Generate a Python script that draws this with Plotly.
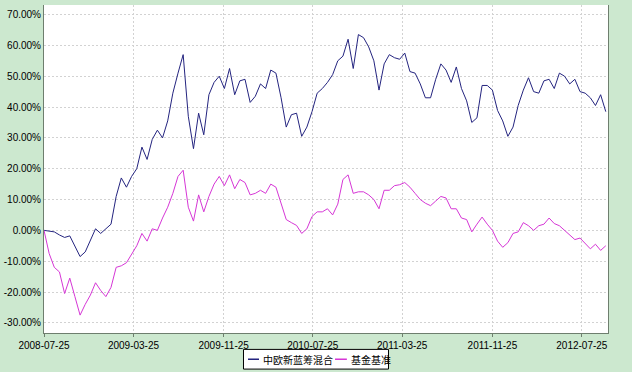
import pandas as pd
import plotly.graph_objects as go

start_date = "2008-07-25"
step = "14D"

fund_name = "中欧新蓝筹混合"
bench_name = "基金基准"

fund_values = [
    0.0, -0.2, -0.5, -1.5, -2.3, -1.8, -5.0, -8.5, -7.0, -3.5,
    0.5, -1.0, 0.5, 2.0, 11.0, 17.0, 14.0, 17.5, 20.0, 27.0,
    23.0, 29.5, 32.5, 30.0, 35.5, 44.5, 51.0, 57.0, 37.0, 26.5,
    38.0, 31.0, 44.0, 48.0, 50.0, 46.0, 52.5, 44.0, 48.5, 49.0,
    41.5, 43.5, 47.5, 46.0, 52.0, 51.0, 43.0, 33.5, 37.5, 38.0,
    30.5, 33.5, 38.5, 44.5, 46.0, 48.0, 50.5, 55.0, 56.5, 62.0,
    52.5, 63.5, 62.5, 59.5, 55.0, 45.5, 54.0, 57.0, 56.0, 55.5,
    57.5, 51.5, 51.0, 47.5, 43.0, 43.0, 49.0, 54.0, 52.0, 48.0,
    53.0, 46.0, 42.0, 35.0, 36.5, 47.0, 47.0, 45.5, 38.9, 35.5,
    30.5, 33.5, 40.5, 45.5, 49.5, 45.0, 44.5, 48.5, 49.0, 46.0,
    51.0, 50.0, 47.5, 49.0, 45.0, 44.5, 43.0, 40.5, 44.0, 38.5,
]

bench_values = [
    0.0, -7.5, -12.0, -13.5, -20.5, -15.5, -21.5, -27.5, -24.0, -21.0,
    -17.0, -19.5, -21.5, -18.5, -12.0, -11.5, -10.5, -7.5, -5.0, -1.0,
    -3.5, 0.5, 0.0, 4.0, 7.5, 12.0, 17.5, 19.5, 7.5, 3.0,
    11.5, 6.0, 11.0, 15.0, 17.5, 14.5, 18.0, 13.5, 16.5, 15.5,
    11.5, 12.0, 13.0, 12.0, 15.0, 14.0, 8.5, 3.5, 2.5, 1.6,
    -1.0, 0.5, 4.5, 6.0, 6.0, 7.0, 5.0, 8.5, 16.5, 18.0,
    12.0, 12.5, 12.5, 11.5, 10.0, 7.0, 13.0, 13.0, 14.5, 14.8,
    15.5, 14.0, 12.0, 10.0, 8.8, 8.0, 9.5, 11.0, 10.5, 7.0,
    7.0, 4.0, 3.5, -0.5, 2.0, 4.3, 2.0, 0.0, -3.5, -5.5,
    -4.0, -1.0, -0.5, 2.5, 1.5, 0.0, 1.5, 2.0, 4.0, 2.2,
    1.5, 0.0, -1.5, -3.0, -2.5, -4.3, -6.0, -4.5, -6.5, -5.0,
]

tick_dates = ["2008-07-25", "2009-03-25", "2009-11-25", "2010-07-25",
              "2011-03-25", "2011-11-25", "2012-07-25"]
y_ticks = [-30, -20, -10, 0, 10, 20, 30, 40, 50, 60, 70]
y_ticktext = [f"{v:.2f}%" for v in y_ticks]

FUND_COLOR = "#24247F"
BENCH_COLOR = "#D636D6"
PAGE_BG = "#CCE8CF"
GRID = "#D2D2D2"

dates = pd.date_range(start=start_date, periods=len(fund_values), freq=step)

fig = go.Figure()
fig.add_trace(go.Scatter(x=dates, y=fund_values, mode="lines", name=fund_name,
                         line=dict(color=FUND_COLOR, width=1)))
fig.add_trace(go.Scatter(x=dates, y=bench_values, mode="lines", name=bench_name,
                         line=dict(color=BENCH_COLOR, width=1)))

# ---- custom legend box below the plot (paper coordinates) ----
leg_font = dict(family="Noto Sans CJK SC, sans-serif", size=10, color="#000000")
y_top, y_bot, y_mid = -0.050, -0.110, -0.080
shapes = [
    dict(type="rect", xref="paper", yref="paper", x0=0.3537, x1=0.6108,
         y0=y_bot, y1=y_top, line=dict(color="#000000", width=1),
         fillcolor="#FFFFFF", layer="above"),
    dict(type="line", xref="paper", yref="paper", x0=0.3617, x1=0.3812,
         y0=y_mid, y1=y_mid, line=dict(color=FUND_COLOR, width=1.5)),
    dict(type="line", xref="paper", yref="paper", x0=0.5160, x1=0.5370,
         y0=y_mid, y1=y_mid, line=dict(color=BENCH_COLOR, width=1.5)),
]
annotations = [
    dict(text=fund_name, xref="paper", yref="paper", x=0.3850, y=y_mid,
         xanchor="left", yanchor="middle", showarrow=False, font=leg_font),
    dict(text=bench_name, xref="paper", yref="paper", x=0.5400, y=y_mid,
         xanchor="left", yanchor="middle", showarrow=False, font=leg_font),
]

fig.update_layout(
    width=632, height=372,
    paper_bgcolor=PAGE_BG,
    plot_bgcolor="#FFFFFF",
    margin=dict(l=44, r=24, t=5, b=39, autoexpand=False),
    font=dict(family="Liberation Sans, Arial, sans-serif", size=10, color="#000000"),
    showlegend=False,
    shapes=shapes,
    annotations=annotations,
    xaxis=dict(
        type="date",
        range=["2008-07-25", "2012-10-04"],
        tickvals=tick_dates, ticktext=tick_dates,
        showgrid=True, gridcolor=GRID, griddash="2px,2px", gridwidth=1,
        showline=True, linecolor="#6E7E6E", linewidth=1,
        ticks="outside", ticklen=3, tickcolor="#6E7E6E",
        zeroline=False, automargin=False,
        tickfont=dict(size=10),
    ),
    yaxis=dict(
        range=[-33.3, 73.1],
        tickvals=y_ticks, ticktext=y_ticktext,
        showgrid=True, gridcolor=GRID, griddash="2px,2px", gridwidth=1,
        showline=True, linecolor="#6E7E6E", linewidth=1, mirror=True,
        ticks="", zeroline=False, automargin=False,
        tickfont=dict(size=10),
    ),
)

# remove the browser's default 8px body margin so the figure sits at (0, 0)
fig.write_html(
    "out.html",
    config={"displayModeBar": False, "staticPlot": True},
    post_script=(
        "document.body.style.margin='0';"
        "document.body.style.padding='0';"
        "document.body.style.background='" + PAGE_BG + "';"
        "document.body.style.overflow='hidden';"
    ),
)
